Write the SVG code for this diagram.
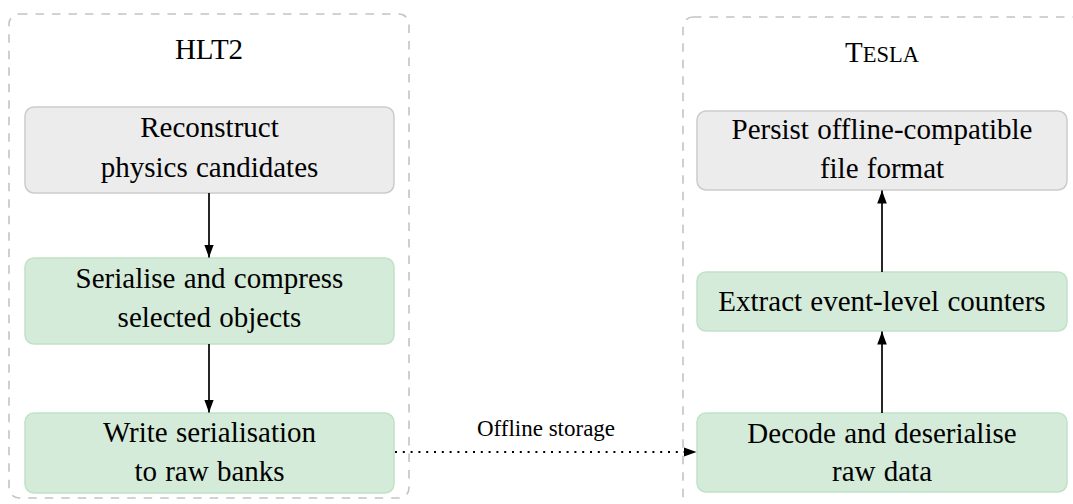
<svg xmlns="http://www.w3.org/2000/svg" width="1073" height="504" viewBox="0 0 1073 504">
<style>
  .container { fill: none; stroke: #c4c4c4; stroke-width: 1.6; stroke-dasharray: 8.5 8; }
  .gray { fill: #ececec; stroke: #cbcbcb; stroke-width: 1.5; }
  .green { fill: #d5ebd9; stroke: #c0e2c7; stroke-width: 1.5; }
  text { font-family: "Liberation Serif", "Times New Roman", serif; fill: #000; text-anchor: middle; }
  .t { font-size: 29px; word-spacing: 1px; }
  .lbl { font-size: 23px; }
  .edge { stroke: #000; stroke-width: 1.7; fill: none; }
  .dot { stroke: #000; stroke-width: 2; fill: none; stroke-dasharray: 2 5.8; }
</style>
<defs>
  <marker id="ah" markerWidth="14" markerHeight="11" refX="13" refY="5.5" orient="auto" markerUnits="userSpaceOnUse">
    <path d="M0,0.7 L13,5.5 L0,10.3 Z" fill="#000"/>
  </marker>
</defs>
<g id="hlt2-container">
  <rect class="container" x="9" y="14" width="400" height="484" rx="10"/>
  <text class="t" x="209" y="59">HLT2</text>
</g>
<g id="tesla-container">
  <rect class="container" x="683" y="17" width="420" height="500" rx="10"/>
  <text x="882" y="62"><tspan style="font-size:29px">T</tspan><tspan style="font-size:22.5px">ESLA</tspan></text>
</g>
<g id="reconstruct">
  <rect class="gray" x="25" y="107" width="369" height="86" rx="9"/>
  <text class="t" x="209.5" y="137">Reconstruct</text>
  <text class="t" x="209.5" y="177">physics candidates</text>
</g>
<g id="serialise">
  <rect class="green" x="25" y="258" width="369" height="86" rx="9"/>
  <text class="t" x="209.5" y="288">Serialise and compress</text>
  <text class="t" x="209.5" y="327">selected objects</text>
</g>
<g id="write">
  <rect class="green" x="25" y="413" width="369" height="80" rx="9"/>
  <text class="t" x="209.5" y="442">Write serialisation</text>
  <text class="t" x="209.5" y="481">to raw banks</text>
</g>
<g id="persist">
  <rect class="gray" x="697" y="111" width="370" height="79" rx="9"/>
  <text class="t" x="882" y="139">Persist offline-compatible</text>
  <text class="t" x="882" y="178">file format</text>
</g>
<g id="extract">
  <rect class="green" x="697" y="272" width="370" height="59" rx="9"/>
  <text class="t" x="882" y="311">Extract event-level counters</text>
</g>
<g id="decode">
  <rect class="green" x="697" y="413" width="370" height="79" rx="9"/>
  <text class="t" x="882" y="443">Decode and deserialise</text>
  <text class="t" x="882" y="481">raw data</text>
</g>
<g id="connectors">
  <line class="edge" x1="209" y1="193" x2="209" y2="257.5" marker-end="url(#ah)"/>
  <line class="edge" x1="209" y1="344" x2="209" y2="412.5" marker-end="url(#ah)"/>
  <line class="edge" x1="882" y1="413" x2="882" y2="331.5" marker-end="url(#ah)"/>
  <line class="edge" x1="882" y1="272" x2="882" y2="190.5" marker-end="url(#ah)"/>
  <line class="dot" x1="395" y1="452" x2="696.5" y2="452" marker-end="url(#ah)"/>
  <text class="lbl" x="546" y="436">Offline storage</text>
</g>
</svg>
